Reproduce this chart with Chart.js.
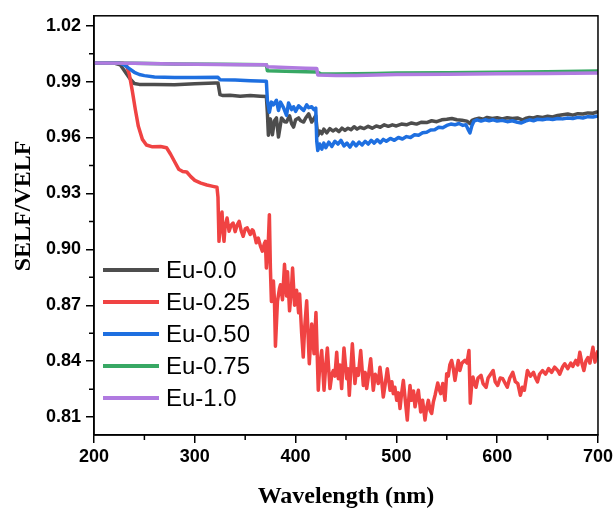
<!DOCTYPE html>
<html>
<head>
<meta charset="utf-8">
<script src="https://cdn.jsdelivr.net/npm/chart.js@4.4.0/dist/chart.umd.min.js"></script>
<style>
  html, body { margin: 0; padding: 0; background: #fff; }
</style>
</head>
<body>
<canvas id="myChart" width="616" height="512"></canvas>
<script>
// axis ticks
const xTicks = [200, 300, 400, 500, 600, 700];
const xMinorTicks = [250, 350, 450, 550, 650];
const yTicks = [0.81, 0.84, 0.87, 0.90, 0.93, 0.96, 0.99, 1.02];
const yMinorTicks = [0.825, 0.855, 0.885, 0.915, 0.945, 0.975, 1.005];

const seriesNames = ["Eu-0.0", "Eu-0.25", "Eu-0.50", "Eu-0.75", "Eu-1.0"];

// Eu-0.0
const eu00Wave = [200, 220, 226, 230, 235, 240, 245, 260, 280, 300, 320, 323, 325, 328, 335, 345, 355, 365, 371,
  372, 373, 375, 377, 379, 381, 383, 385, 386, 389, 391, 394, 396, 398, 400, 403, 405, 408, 410, 413, 416, 418, 420,
  421, 422, 424, 426, 428, 431, 434, 437, 440, 443, 446, 449, 452, 455, 458, 461, 464, 468, 472, 476, 480, 484, 488, 492, 496,
  500, 505, 510, 515, 520, 525, 530, 535, 540, 545, 550, 555, 560, 565, 570, 573, 575, 578, 582, 586, 590, 595,
  600, 605, 610, 615, 620, 625, 628, 632, 636, 640, 645, 650, 655, 660, 665, 670, 675, 680, 685, 690, 695, 700];
const eu00Val = [1.000, 1.000, 0.999, 0.996, 0.992, 0.989, 0.9885, 0.9885, 0.9883, 0.9888, 0.9893, 0.9893, 0.983, 0.9825, 0.9827, 0.9822, 0.9825, 0.9822, 0.982,
  0.9735, 0.9612, 0.970, 0.9615, 0.969, 0.9705, 0.9603, 0.967, 0.9705, 0.9685, 0.9683, 0.9717, 0.9675, 0.9656, 0.9695, 0.9705, 0.969, 0.9683, 0.9705, 0.9727, 0.9683, 0.970, 0.9717,
  0.966, 0.961, 0.9635, 0.962, 0.9645, 0.9625, 0.9648, 0.9635, 0.9645, 0.9632, 0.965, 0.9638, 0.965, 0.9642, 0.9658, 0.9645, 0.9655, 0.9648, 0.966, 0.965, 0.9662, 0.9655, 0.9668, 0.966, 0.9668,
  0.9662, 0.9672, 0.9668, 0.9678, 0.9672, 0.9682, 0.968, 0.969, 0.9685, 0.9695, 0.9698, 0.9702, 0.9695, 0.9693, 0.9688, 0.9675, 0.9692, 0.9698, 0.9703, 0.9698, 0.9708, 0.9702,
  0.9706, 0.9699, 0.9706, 0.9702, 0.9705, 0.9694, 0.9702, 0.9708, 0.9705, 0.9712, 0.9708, 0.9714, 0.971, 0.9718, 0.9722, 0.9726, 0.972, 0.9728, 0.9726, 0.9732, 0.973, 0.9738];

// Eu-0.25
const eu025Wave = [200, 228, 232, 235, 238, 241, 244, 248, 252, 258, 266, 272, 276, 280, 284, 288, 292, 296, 300, 306, 312, 318, 322,
  323, 324, 325, 327, 328, 329, 330, 332, 334, 336, 338, 340, 342, 344, 346, 348, 350, 352, 355, 357, 358, 360, 361, 363, 365, 367, 369, 370,
  371, 372, 373, 374, 375, 376, 378, 379, 380, 382, 384, 385, 387, 389, 391, 392, 394, 396, 397, 399, 401, 403, 404, 406, 407.6, 409,
  411, 413.6, 416, 418.3, 420.2, 422.5, 424, 425.9, 428.2, 430, 431.5, 434.1, 436, 437.4, 439, 440.8, 442.4, 444, 445.7, 448, 450.7, 452, 453.3,
  456.3, 458.9, 460.5, 462.2, 464.6, 467.2, 469, 470.5, 472.5, 474.5, 477.1, 479, 480.5, 482, 483.7, 485.5, 487, 489, 491, 493.7, 495.5, 496.9, 498.5,
  500.3, 502, 503.6, 505, 506.9, 509, 510.8, 512, 513.5, 515, 517, 518.5, 520, 521.8, 524.1, 526, 528.4, 530, 531.7, 533.5, 535, 536.7, 538.5,
  541, 542.5, 544, 546, 548.2, 549.9, 551.5, 553, 554.8, 556.5, 558.1, 560, 561.4, 563, 565, 568, 570, 572, 573.3, 574.5, 576, 577.5, 579,
  581, 584, 586, 589, 591, 593.5, 596, 598, 600.5, 603, 605.5, 608, 610, 612.5, 615.5, 618, 620.5, 623, 625, 627, 630, 633, 636, 638,
  640, 642, 645, 648, 651, 654, 657, 660, 662, 665, 667, 670, 673, 675, 678, 680, 682, 684, 686, 688, 690, 692, 695, 697, 698.5, 700];
const eu025Val = [1.000, 1.000, 0.999, 0.994, 0.985, 0.975, 0.966, 0.959, 0.956, 0.955, 0.9552, 0.9545, 0.951, 0.947, 0.943, 0.9418, 0.9415, 0.939, 0.937, 0.9355, 0.9345, 0.9338, 0.9333,
  0.928, 0.9043, 0.912, 0.920, 0.909, 0.9043, 0.912, 0.9168, 0.9097, 0.913, 0.9141, 0.9095, 0.913, 0.915, 0.910, 0.907, 0.911, 0.9115, 0.908, 0.9105, 0.910, 0.906, 0.9035, 0.906, 0.902, 0.899, 0.903, 0.9043,
  0.890, 0.897, 0.905, 0.9186, 0.890, 0.872, 0.883, 0.873, 0.848, 0.872, 0.879, 0.881, 0.873, 0.892, 0.875, 0.888, 0.867, 0.880, 0.890, 0.870, 0.878, 0.866, 0.876, 0.855, 0.8422, 0.858,
  0.8724, 0.8386, 0.860, 0.844, 0.8661, 0.8244, 0.838, 0.8457, 0.8244, 0.838, 0.8471, 0.8253, 0.833, 0.835, 0.832, 0.8448, 0.8306, 0.838, 0.8253, 0.8471, 0.8306, 0.836, 0.8217,
  0.8493, 0.828, 0.836, 0.8324, 0.8457, 0.827, 0.834, 0.8253, 0.833, 0.8413, 0.8244, 0.833, 0.8315, 0.828, 0.8368, 0.829, 0.8208, 0.828, 0.836, 0.8244, 0.829, 0.8226, 0.826,
  0.819, 0.823, 0.8146, 0.822, 0.8297, 0.818, 0.8084, 0.818, 0.827, 0.819, 0.824, 0.8155, 0.820, 0.8244, 0.8128, 0.819, 0.8084, 0.815, 0.819, 0.8135, 0.812, 0.8182, 0.822,
  0.8283, 0.825, 0.8226, 0.828, 0.819, 0.8333, 0.832, 0.838, 0.8404, 0.836, 0.8297, 0.836, 0.8404, 0.835, 0.839, 0.8404, 0.839, 0.8457, 0.8175, 0.826, 0.8315, 0.828, 0.826,
  0.831, 0.8324, 0.828, 0.826, 0.831, 0.833, 0.835, 0.829, 0.827, 0.831, 0.8306, 0.828, 0.826, 0.831, 0.834, 0.829, 0.828, 0.8217, 0.826, 0.8244, 0.835, 0.832, 0.834, 0.831,
  0.8289, 0.833, 0.835, 0.833, 0.836, 0.834, 0.8368, 0.835, 0.833, 0.837, 0.8386, 0.836, 0.839, 0.8372, 0.8404, 0.838, 0.8448, 0.839, 0.835, 0.840, 0.842, 0.839, 0.8475, 0.8395, 0.843, 0.8457];

// Eu-0.50
const eu050Wave = [200, 225, 230, 235, 240, 245, 250, 260, 280, 300, 323, 325, 340, 355, 371,
  372, 374, 376, 378, 381, 383, 385, 388, 391, 393, 396, 398, 400, 403, 406, 408, 411, 413, 416, 418, 420,
  421, 422, 424, 426, 428, 430, 433, 436, 439, 442, 445, 448, 451, 454, 457, 460, 463, 466, 469, 472, 475, 478, 481, 484, 487, 490, 494, 498,
  502, 506, 510, 514, 518, 522, 526, 530, 534, 538, 542, 546, 550, 554, 558, 562, 566, 569, 571, 573, 575, 577, 580, 584, 588, 592, 596,
  600, 605, 610, 615, 620, 624, 628, 632, 636, 640, 645, 650, 655, 660, 665, 670, 675, 680, 685, 690, 695, 700];
const eu050Val = [1.000, 1.000, 0.999, 0.997, 0.995, 0.9938, 0.9932, 0.9925, 0.9922, 0.9922, 0.9923, 0.991, 0.9908, 0.9905, 0.9902,
  0.980, 0.9736, 0.979, 0.9775, 0.980, 0.9745, 0.979, 0.976, 0.9719, 0.9785, 0.975, 0.9765, 0.974, 0.977, 0.9755, 0.9745, 0.9775, 0.976, 0.9765, 0.975, 0.9758,
  0.958, 0.953, 0.9565, 0.9538, 0.957, 0.9545, 0.9575, 0.9552, 0.958, 0.9565, 0.9585, 0.9555, 0.957, 0.9548, 0.9575, 0.9555, 0.9575, 0.956, 0.958, 0.9565, 0.9585, 0.957, 0.9588, 0.9572, 0.959, 0.958, 0.9595, 0.9585,
  0.960, 0.9592, 0.9605, 0.960, 0.9615, 0.9612, 0.9625, 0.9628, 0.964, 0.9642, 0.9655, 0.9652, 0.9665, 0.9672, 0.9668, 0.9675, 0.9665, 0.9668, 0.9645, 0.9625, 0.9665, 0.9688, 0.9695, 0.9688, 0.9695, 0.969, 0.9695,
  0.9688, 0.9692, 0.9685, 0.969, 0.9682, 0.9678, 0.9688, 0.9695, 0.969, 0.9698, 0.9695, 0.970, 0.9697, 0.9702, 0.970, 0.9705, 0.9702, 0.9708, 0.9705, 0.9712, 0.971, 0.9715];

// Eu-0.75
const eu075Wave = [200, 240, 280, 323, 350, 371, 372, 390, 410, 421, 425, 440, 460, 480, 500, 550, 600, 650, 700];
const eu075Val = [1.000, 0.9998, 0.9995, 0.9993, 0.9992, 0.9991, 0.9958, 0.9955, 0.9953, 0.9952, 0.9942, 0.9941, 0.9942, 0.9944, 0.9946, 0.9948, 0.995, 0.9953, 0.9957];

// Eu-1.0
const eu10Wave = [200, 240, 280, 323, 350, 371, 372, 390, 410, 421, 422, 440, 460, 480, 500, 550, 600, 650, 700];
const eu10Val = [1.000, 0.9998, 0.9995, 0.9992, 0.9991, 0.999, 0.998, 0.9976, 0.9972, 0.997, 0.9935, 0.9933, 0.9933, 0.9936, 0.9938, 0.994, 0.9942, 0.9944, 0.9946];

const colors = ["#4d4d4d", "#f04343", "#1e6fe0", "#38a864", "#b07ae0"];

toPoints = (wave, val) => wave.map((w, i) => ({ x: w, y: val[i] }));

const allWave = [eu00Wave, eu025Wave, eu050Wave, eu075Wave, eu10Wave];
const allVal = [eu00Val, eu025Val, eu050Val, eu075Val, eu10Val];

let datasets = seriesNames.map((name, i) => ({
  label: name,
  data: toPoints(allWave[i], allVal[i]),
  borderColor: colors[i],
  backgroundColor: colors[i],
  borderWidth: 3.5,
  borderJoinStyle: "round",
  pointRadius: 0,
  tension: 0,
  fill: false,
  order: 4 - i
}));

// frame, minor ticks, legend and y title
const extras = {
  id: "extras",
  afterDraw(chart) {
    const ctx = chart.ctx;
    const a = chart.chartArea;
    const xs = chart.scales.x;
    const ys = chart.scales.y;
    ctx.save();
    ctx.strokeStyle = "#000";
    ctx.lineWidth = 1.5;
    ctx.beginPath();
    xMinorTicks.forEach(v => {
      let px = xs.getPixelForValue(v);
      ctx.moveTo(px, a.bottom);
      ctx.lineTo(px, a.bottom + 5);
    });
    yMinorTicks.forEach(v => {
      let py = ys.getPixelForValue(v);
      ctx.moveTo(a.left, py);
      ctx.lineTo(a.left - 5, py);
    });
    ctx.stroke();
    ctx.strokeRect(a.left, a.top, a.right - a.left, a.bottom - a.top);

    // legend
    ctx.font = "24px 'Liberation Sans', Arial, sans-serif";
    ctx.textBaseline = "middle";
    ctx.textAlign = "left";
    chart.data.datasets.forEach((ds, i) => {
      let y = 270 + i * 32;
      ctx.strokeStyle = ds.borderColor;
      ctx.lineWidth = 4;
      ctx.beginPath();
      ctx.moveTo(103, y);
      ctx.lineTo(159, y);
      ctx.stroke();
      ctx.fillStyle = "#000";
      ctx.fillText(ds.label, 166, y + 1);
    });

    // y axis title
    ctx.translate(24, 206);
    ctx.rotate(-Math.PI / 2);
    ctx.font = "bold 24px 'Liberation Serif', 'Times New Roman', serif";
    ctx.textAlign = "center";
    ctx.fillText("SELF/VELF", 0, 0);
    ctx.restore();
  }
};

let ctx = document.getElementById("myChart").getContext("2d");
let myChart = new Chart(ctx, {
  type: "line",
  data: { datasets: datasets },
  options: {
    responsive: false,
    animation: false,
    layout: { padding: { left: 0, top: 13, right: 18, bottom: 0 } },
    plugins: { legend: { display: false }, tooltip: { enabled: false } },
    scales: {
      x: {
        type: "linear",
        min: 200,
        max: 700,
        afterBuildTicks: s => { s.ticks = xTicks.map(v => ({ value: v })); },
        afterFit: s => { s.height = 77; },
        ticks: {
          color: "#000",
          padding: 3,
          maxRotation: 0,
          font: { family: "'Liberation Sans', Arial, sans-serif", size: 18, weight: "bold" }
        },
        grid: { drawOnChartArea: false, tickLength: 8, color: "#000", lineWidth: 1.5 },
        border: { color: "#000", width: 1.5 },
        title: {
          display: true,
          text: "Wavelength (nm)",
          color: "#000",
          padding: { top: 0, bottom: 1 },
          font: { family: "'Liberation Serif', 'Times New Roman', serif", size: 24, weight: "bold" }
        }
      },
      y: {
        min: 0.8004,
        max: 1.0253,
        afterBuildTicks: s => { s.ticks = yTicks.map(v => ({ value: v })); },
        afterFit: s => { s.width = 94; },
        ticks: {
          color: "#000",
          padding: 5,
          callback: v => v.toFixed(2),
          font: { family: "'Liberation Sans', Arial, sans-serif", size: 18, weight: "bold" }
        },
        grid: { drawOnChartArea: false, tickLength: 8, color: "#000", lineWidth: 1.5 },
        border: { color: "#000", width: 1.5 }
      }
    }
  },
  plugins: [extras]
});
</script>
</body>
</html>
